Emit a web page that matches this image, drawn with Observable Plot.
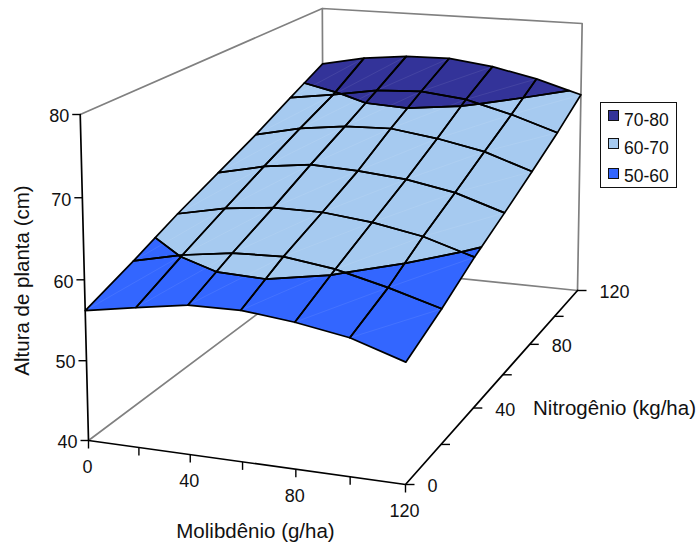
<!DOCTYPE html><html><head><meta charset="utf-8">
<style>
html,body{margin:0;padding:0;background:#fff}
#wrap{position:relative;width:699px;height:548px;font-family:"Liberation Sans",Arial,sans-serif;color:#111}
#wrap svg{display:block}
#legend{position:absolute;left:600px;top:102px;width:75px;height:84px;border:1.6px solid #111;background:#fff}
#legend .sw{position:absolute;left:7px;width:9px;height:9px;border:1.2px solid #111}
#legend .tx{position:absolute;left:23px;font-size:17.5px;line-height:18px}
</style></head><body>
<div id="wrap"><div id="legend"></div></div>
<script src="https://cdn.jsdelivr.net/npm/d3@7"></script>
<script src="https://cdn.jsdelivr.net/npm/@observablehq/plot@0.6"></script>
<script>
const molibdenio = [0, 20, 40, 60, 80, 100, 120];
const nitrogenio = [0, 20, 40, 60, 80, 100, 120];
const heightN0   = [56.2, 57.3, 58.3, 58.4, 57.7, 56.6, 54.5];
const heightN20  = [58.7, 60.1, 61.0, 61.2, 60.3, 58.7, 56.8];
const heightN40  = [61.4, 62.7, 63.4, 63.4, 62.7, 61.5, 59.5];
const heightN60  = [63.8, 65.2, 66.0, 65.7, 65.1, 63.9, 61.8];
const heightN80  = [66.2, 67.6, 68.4, 68.6, 67.7, 66.4, 64.2];
const heightN100 = [68.9, 69.8, 70.9, 71.2, 70.5, 68.8, 66.7];
const heightN120 = [71.5, 72.8, 73.5, 73.6, 72.8, 71.4, 69.5];
const heights = [heightN0, heightN20, heightN40, heightN60, heightN80, heightN100, heightN120];
const moLabels = [0, 40, 80, 120];
const nLabels = [0, 40, 80, 120];
const zTicks = [40, 50, 60, 70, 80];
const bandNames = ["70-80", "60-70", "50-60"];
const bandLows = [70, 60, 50];
const bandColors = ["#333399", "#A6CAF0", "#3366FF"];

// Perspective view of the box (Mo 0-120, N 0-120, altura 40-80)
const A = [88, 294.89, 327.06, -10.5], B = [440, 17.58, -100.76, -329.18], G = [-0.05459, 0.285, -0.0279];
function proj(mo, n, z) {
  const u = mo / 120, v = n / 120, w = (z - 40) / 40;
  const d = 1 + G[0] * u + G[1] * v + G[2] * w;
  return [(A[0] + A[1] * u + A[2] * v + A[3] * w) / d, (B[0] + B[1] * u + B[2] * v + B[3] * w) / d];
}
const px = p => proj(p.mo, p.n, p.z)[0];
const py = p => proj(p.mo, p.n, p.z)[1];

// Clip one polygon of the surface to z >= lo or z <= hi
function clip(poly, level, keepAbove) {
  const out = [], inside = p => keepAbove ? p.z >= level : p.z <= level;
  poly.forEach((a, k) => {
    const b = poly[(k + 1) % poly.length];
    if (inside(a)) out.push(a);
    if (inside(a) !== inside(b)) {
      const t = (level - a.z) / (b.z - a.z);
      out.push({mo: a.mo + t * (b.mo - a.mo), n: a.n + t * (b.n - a.n), z: level});
    }
  });
  return out;
}
const polygons = [], diagonals = [];
for (let j = 0; j < 6; ++j) for (let i = 0; i < 6; ++i) {
  const v = (a, b) => ({mo: molibdenio[a], n: nitrogenio[b], z: heights[b][a]});
  const cell = [v(i, j), v(i + 1, j), v(i + 1, j + 1), v(i, j + 1)];
  diagonals.push({a: v(i, j), b: v(i + 1, j + 1)});
  bandNames.forEach((name, b) => {
    const lo = bandLows[b];
    let poly = clip(clip(cell, lo, true), lo + 10, false);
    if (poly.length > 2) {
      const id = `${i}-${j}-${b}`;
      [...poly, poly[0]].forEach(p => polygons.push({...p, id, band: name}));
    }
  });
}

const box = (mo, n, z) => ({mo, n, z});
const grayLines = [
  [box(0,0,40), box(0,120,40), box(120,120,40), box(120,120,80), box(0,120,80), box(0,0,80)],
  [box(0,120,40), box(0,120,80)]
].flatMap((l, id) => l.map(p => ({...p, id})));
const blackLines = [
  [box(0,0,80), box(0,0,40), box(120,0,40), box(120,120,40)]
].flatMap((l, id) => l.map(p => ({...p, id})));

const moTicks = molibdenio.map(mo => box(mo, 0, 40));
const nTicks = nitrogenio.map(n => box(120, n, 40));
const zTickPts = zTicks.map(z => box(0, 0, z));

const tickFont = {fontFamily: "Liberation Sans, Arial, sans-serif", fontSize: 18, fill: "#111"};
const titleFont = {...tickFont, fontSize: 20.5};
const chart = Plot.plot({
  width: 699, height: 548, margin: 0,
  x: {type: "identity", axis: null}, y: {type: "identity", axis: null},
  color: {domain: bandNames, range: bandColors},
  marks: [
    Plot.line(grayLines, {x: px, y: py, z: "id", stroke: "#808080", strokeWidth: 1.7}),
    Plot.line(blackLines, {x: px, y: py, z: "id", stroke: "#000", strokeWidth: 1.7}),
    Plot.link(moTicks, {x1: px, y1: py, x2: px, y2: p => py(p) + 8, stroke: "#000", strokeWidth: 1.4}),
    Plot.link(nTicks, {x1: px, y1: py, x2: p => px(p) + 9, y2: py, stroke: "#000", strokeWidth: 1.4}),
    Plot.link(zTickPts, {x1: px, y1: py, x2: p => px(p) - 8, y2: py, stroke: "#000", strokeWidth: 1.4}),
    Plot.line(polygons, {x: px, y: py, z: "id", fill: "band", stroke: "none"}),
    Plot.link(diagonals, {x1: d => px(d.a), y1: d => py(d.a), x2: d => px(d.b), y2: d => py(d.b), stroke: "#fff", strokeOpacity: 0.12, strokeWidth: 0.7}),
    Plot.line(polygons, {x: px, y: py, z: "id", fill: "none", stroke: "#000", strokeWidth: 1.7}),
    Plot.text(moLabels.map(mo => box(mo, 0, 40)), {x: px, y: py, text: d => String(d.mo), dx: -1, dy: 26.5, ...tickFont}),
    Plot.text(nLabels.map(n => box(120, n, 40)), {x: px, y: py, text: d => String(d.n), dx: 22, dy: 2, textAnchor: "start", ...tickFont}),
    Plot.text(zTickPts, {x: px, y: py, text: d => String(d.z), dx: -11, dy: 2, textAnchor: "end", ...tickFont}),
    Plot.text(["Molibdênio (g/ha)"], {x: [255], y: [531], ...titleFont}),
    Plot.text(["Nitrogênio (kg/ha)"], {x: [614], y: [408], ...titleFont}),
    Plot.text(["Altura de planta (cm)"], {x: [22], y: [280], rotate: -90, ...titleFont})
  ]
});
const wrap = document.getElementById("wrap");
wrap.insertBefore(chart, wrap.firstChild);
const legend = document.getElementById("legend");
bandNames.forEach((name, k) => {
  const top = [7, 35, 65][k];
  legend.insertAdjacentHTML("beforeend",
    `<div class="sw" style="top:${top}px;background:${bandColors[k]}"></div><div class="tx" style="top:${top + [1,1,-1][k]}px">${name}</div>`);
});
</script></body></html>
